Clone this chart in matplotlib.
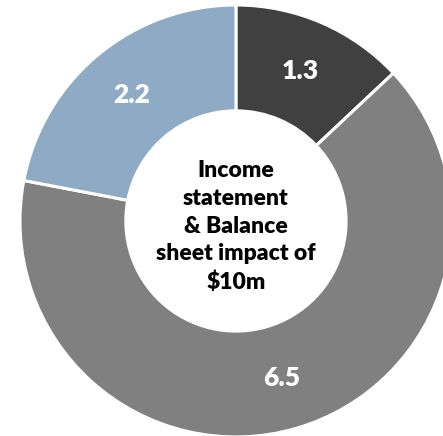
import matplotlib.pyplot as plt
import numpy as np

values = [1.3, 6.5, 2.2]
labels = ['1.3', '6.5', '2.2']
colors = ['#404040', '#808080', '#8EAAC4']
center_text = 'Income\nstatement\n& Balance\nsheet impact of\n$10m'

fig = plt.figure(figsize=(4.43, 4.36), dpi=100)
ax = fig.add_axes([0.0451, -0.0023, 0.975, 0.991])

wedges, texts = ax.pie(values, colors=colors, startangle=90, counterclock=False,
                       radius=1.0,
                       wedgeprops=dict(width=0.49, edgecolor='white', linewidth=2.2))

# value labels at the middle of the ring
total = sum(values)
start = 90.0
for v, lab in zip(values, labels):
    mid = np.deg2rad(start - v / total * 360 / 2)
    ax.text(0.755 * np.cos(mid), 0.755 * np.sin(mid), lab, ha='center', va='center',
            color='white', fontsize=19, fontweight='heavy', family='Lato')
    start -= v / total * 360

ax.text(0, -0.025, center_text, ha='center', va='center', fontsize=16.5,
        fontweight='heavy', family='Lato', linespacing=1.4, color='black')

ax.set_xlim(-1, 1)
ax.set_ylim(-1, 1)
ax.set_aspect('equal')
ax.axis('off')

fig.savefig('out.png', dpi=100)
